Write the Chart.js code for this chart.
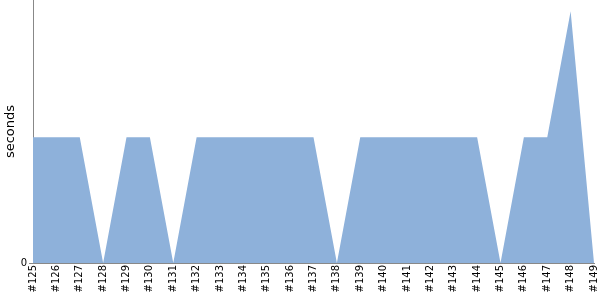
<!DOCTYPE html>
<html>
<head>
<meta charset="utf-8">
<script src="https://cdn.jsdelivr.net/npm/chart.js@4/dist/chart.umd.min.js"></script>
<style>
  html, body { margin: 0; padding: 0; background: #fff; }
  #wrap { width: 600px; height: 300px; }
</style>
</head>
<body>
<div id="wrap"><canvas id="c"></canvas></div>
<script>
const builds = ["#125", "#126", "#127", "#128", "#129", "#130", "#131", "#132", "#133", "#134", "#135", "#136", "#137",
                "#138", "#139", "#140", "#141", "#142", "#143", "#144", "#145", "#146", "#147", "#148", "#149"];
const durations = [1, 1, 1, 0, 1, 1, 0, 1, 1, 1, 1, 1, 1, 0, 1, 1, 1, 1, 1, 1, 0, 1, 1, 2, 0];
const yTicks = [0];

const fillColor = "#8eb1da";
const axisColor = "#888888";

new Chart(document.getElementById("c"), {
    type: "line",
    data: {
        labels: builds,
        datasets: [{
            data: durations,
            fill: "origin",
            backgroundColor: fillColor,
            borderColor: fillColor,
            borderWidth: 0,
            pointRadius: 0,
            tension: 0
        }]
    },
    options: {
        responsive: true,
        maintainAspectRatio: false,
        animation: false,
        layout: { padding: { top: 0, right: 6, left: 0, bottom: 0 } },
        plugins: { legend: { display: false }, tooltip: { enabled: false } },
        scales: {
            x: {
                offset: false,
                grid: { display: false, drawTicks: false },
                border: { color: axisColor, width: 1 },
                ticks: {
                    minRotation: 90,
                    maxRotation: 90,
                    autoSkip: false,
                    padding: 2,
                    color: "#000",
                    font: { family: "DejaVu Sans", size: 10 }
                },
                afterFit: (s) => {
                    s.height = 37;
                    s.paddingLeft = 0;
                    s.paddingRight = 0;
                }
            },
            y: {
                min: 0,
                max: 2.09,
                afterBuildTicks: (s) => { s.ticks = yTicks.map(v => ({ value: v })); },
                grid: { drawOnChartArea: false, tickLength: 4, color: axisColor },
                border: { color: axisColor, width: 1 },
                ticks: {
                    padding: 2,
                    color: "#000",
                    font: { family: "DejaVu Sans", size: 10 }
                },
                title: {
                    display: true,
                    text: "seconds",
                    color: "#000",
                    padding: { top: 3, bottom: 0 },
                    font: { family: "DejaVu Sans", size: 13 }
                },
                afterFit: (s) => {
                    s.width = 33;
                    s.paddingTop = 0;
                    s.paddingBottom = 0;
                }
            }
        }
    }
});
</script>
</body>
</html>
